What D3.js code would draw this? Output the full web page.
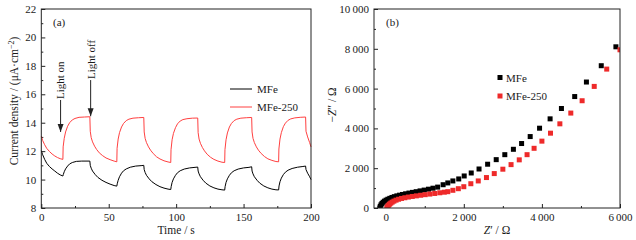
<!DOCTYPE html>
<html>
<head>
<meta charset="utf-8">
<script src="https://cdn.jsdelivr.net/npm/d3@7"></script>
<style>
body { margin: 0; background: #fff; }
text { font-family: "Liberation Serif", "Times New Roman", serif; font-size: 11px; fill: #1a1a1a; }
.title { font-size: 11.5px; }
</style>
</head>
<body>
<div id="chart"></div>
<script>
// (a) photocurrent vs time, [t (s), j (uA/cm2)]
const mfeCurrent = [
  [0,12.03],[1,11.75],[2.5,11.42],[4,11.15],[6,10.92],[8,10.75],[10,10.6],[12,10.45],[14,10.33],[16,10.25],
  [16.3,10.35],[17,10.55],[18,10.75],[19.5,10.95],[21,11.1],[23,11.2],[26,11.28],[30,11.3],[36,11.3],
  [36.3,11.0],[37,10.8],[38,10.6],[40,10.35],[42,10.15],[45,9.95],[48,9.8],[51,9.68],[54,9.58],[56,9.54],
  [56.3,9.7],[57,9.95],[58,10.2],[59.5,10.45],[61,10.62],[63,10.75],[66,10.87],[70,10.95],[74,10.98],[76,11.0],
  [76.3,10.7],[77,10.5],[78,10.3],[80,10.05],[82,9.85],[85,9.65],[88,9.5],[91,9.4],[94,9.33],[96,9.3],
  [96.3,9.5],[97,9.8],[98,10.05],[99.5,10.3],[101,10.48],[103,10.62],[106,10.74],[110,10.82],[114,10.86],[116,10.88],
  [116.3,10.6],[117,10.4],[118,10.2],[120,9.95],[122,9.75],[125,9.55],[128,9.42],[131,9.33],[134,9.28],[136,9.26],
  [136.3,9.5],[137,9.8],[138,10.05],[139.5,10.3],[141,10.48],[143,10.62],[146,10.74],[150,10.82],[154,10.86],[156,10.9],
  [156.3,10.6],[157,10.4],[158,10.2],[160,9.95],[162,9.75],[165,9.55],[168,9.42],[171,9.33],[174,9.28],[176,9.27],
  [176.3,9.55],[177,9.85],[178,10.1],[179.5,10.35],[181,10.52],[183,10.66],[186,10.78],[190,10.87],[194,10.92],[196,10.95],
  [196.3,10.7],[197.5,10.45],[199,10.2],[200,10.0]
];
const mfe250Current = [
  [0,13.06],[1,12.75],[2.5,12.45],[4,12.2],[6,11.98],[8,11.8],[10,11.66],[12,11.55],[14,11.47],[16,11.42],
  [16.2,12.3],[17,12.9],[18,13.35],[19.5,13.75],[21,14.0],[23,14.2],[25,14.3],[28,14.38],[32,14.4],[36,14.42],
  [36.3,13.4],[37,12.95],[38,12.65],[39.5,12.35],[41,12.12],[43,11.88],[45.5,11.68],[48,11.52],[51,11.4],[54,11.3],[56,11.25],
  [56.2,12.2],[57,12.85],[58,13.3],[59.5,13.7],[61,13.95],[63,14.15],[65,14.25],[68,14.32],[72,14.35],[76,14.37],
  [76.3,13.35],[77,12.9],[78,12.6],[79.5,12.3],[81,12.07],[83,11.83],[85.5,11.6],[88,11.45],[91,11.32],[94,11.24],[96,11.2],
  [96.2,12.1],[97,12.8],[98,13.25],[99.5,13.65],[101,13.92],[103,14.12],[105,14.22],[108,14.28],[112,14.32],[116,14.33],
  [116.3,13.3],[117,12.85],[118,12.55],[119.5,12.25],[121,12.02],[123,11.78],[125.5,11.57],[128,11.42],[131,11.3],[134,11.22],[136,11.2],
  [136.2,12.1],[137,12.8],[138,13.28],[139.5,13.7],[141,13.95],[143,14.15],[145,14.25],[148,14.32],[152,14.35],[156,14.37],
  [156.3,13.35],[157,12.9],[158,12.6],[159.5,12.3],[161,12.07],[163,11.84],[165.5,11.62],[168,11.46],[171,11.35],[174,11.27],[176,11.25],
  [176.2,12.15],[177,12.85],[178,13.3],[179.5,13.72],[181,13.97],[183,14.17],[185,14.27],[188,14.34],[192,14.38],[196,14.4],
  [196.3,13.4],[197.5,13.0],[199,12.6],[200,12.3]
];

// (b) Nyquist plot, [Z' (ohm), -Z'' (ohm)]
const mfeNyquist = [
  [-150,0],[-140,80],[-120,160],[-95,230],[-65,290],[-30,345],[10,395],[55,440],[105,485],[160,530],
  [220,570],[285,610],[355,645],[430,680],[510,715],[595,750],[685,785],[780,820],[880,860],[985,900],
  [1095,945],[1210,995],[1330,1050],[1470,1170],[1590,1260],[1720,1360],[1870,1460],[2010,1610],[2190,1760],
  [2390,1960],[2610,2200],[2830,2430],[3050,2680],[3270,2950],[3480,3240],[3700,3590],[3940,4010],
  [4210,4480],[4500,5000],[4840,5600],[5140,6330],[5520,7150],[5895,8100]
];
const mfe250Nyquist = [
  [30,0],[40,45],[55,95],[75,145],[100,195],[130,245],[165,295],[210,345],[265,395],[330,440],
  [405,480],[490,515],[580,550],[680,580],[785,610],[895,640],[1010,670],[1130,700],[1255,730],[1385,765],
  [1500,795],[1590,820],[1720,890],[1860,970],[2000,1070],[2180,1220],[2370,1360],[2580,1530],[2780,1730],
  [3000,1950],[3210,2180],[3420,2420],[3620,2680],[3800,3000],[4000,3360],[4220,3760],[4460,4230],
  [4740,4770],[5030,5390],[5340,6110],[5660,6980],[6000,7950]
];

const seriesNames = ["MFe", "MFe-250"];
const seriesColors = ["#000000", "#ff4040"];
const markerColors = ["#000000", "#ee2a2a"];

const timeTicks = [0, 50, 100, 150, 200];
const currentTicks = [8, 10, 12, 14, 16, 18, 20, 22];
const zReTicks = [0, 2000, 4000, 6000];
const zImTicks = [0, 2000, 4000, 6000, 8000, 10000];

const lightMarks = [
  {label: "Light on", t: 14.3, from: 15.6, to: 13.35},
  {label: "Light off", t: 36.6, from: 17.0, to: 14.45}
];

const width = 636, height = 240;
const plotTop = 9, plotBottom = 208;

const svg = d3.select("#chart").append("svg")
  .attr("width", width)
  .attr("height", height);

const fmtSpace = d => d >= 1000 ? d3.format(",")(d).replace(/,/g, "\u2009") : String(d);

function frame(x0, x1) {
  svg.append("rect")
    .attr("x", x0).attr("y", plotTop)
    .attr("width", x1 - x0).attr("height", plotBottom - plotTop)
    .attr("fill", "none").attr("stroke", "#222").attr("stroke-width", 1);
}

function styleAxis(g) {
  g.select(".domain").remove();
  g.selectAll(".tick line").attr("stroke", "#222");
  g.selectAll(".tick text").attr("fill", "#1a1a1a").style("font-size", "11px")
    .style("font-family", '"Liberation Serif", serif');
}

// ---------- panel (a) ----------
const xa = d3.scaleLinear().domain([0, 200]).range([41.3, 311]);
const ya = d3.scaleLinear().domain([8, 22]).range([plotBottom, plotTop]);

svg.append("g").attr("transform", `translate(0,${plotBottom})`)
  .call(d3.axisBottom(xa).tickValues(d3.range(25, 200, 50)).tickSize(-2).tickFormat(""))
  .call(styleAxis);
svg.append("g").attr("transform", `translate(0,${plotBottom})`)
  .call(d3.axisBottom(xa).tickValues(timeTicks).tickSizeInner(-4).tickPadding(5))
  .call(styleAxis);
svg.append("g").attr("transform", `translate(${xa(0)},0)`)
  .call(d3.axisLeft(ya).tickValues(d3.range(9, 22, 2)).tickSize(-2).tickFormat(""))
  .call(styleAxis);
svg.append("g").attr("transform", `translate(${xa(0)},0)`)
  .call(d3.axisLeft(ya).tickValues(currentTicks).tickSizeInner(-4).tickPadding(5))
  .call(styleAxis);

const lineA = d3.line().x(d => xa(d[0])).y(d => ya(d[1]));
[mfeCurrent, mfe250Current].forEach((s, i) => {
  svg.append("path").datum(s)
    .attr("d", lineA)
    .attr("fill", "none")
    .attr("stroke", seriesColors[i])
    .attr("stroke-width", 1);
});
frame(41.3, 311);

// arrows
const defs = svg.append("defs");
defs.append("marker")
  .attr("id", "head").attr("viewBox", "0 0 8 8")
  .attr("refX", 8).attr("refY", 4)
  .attr("markerWidth", 8).attr("markerHeight", 8)
  .attr("markerUnits", "userSpaceOnUse")
  .attr("orient", "auto")
  .append("path").attr("d", "M0,1 L8,4 L0,7 Z").attr("fill", "#222");

lightMarks.forEach(m => {
  svg.append("line")
    .attr("x1", xa(m.t)).attr("x2", xa(m.t))
    .attr("y1", ya(m.from)).attr("y2", ya(m.to))
    .attr("stroke", "#222").attr("stroke-width", 1)
    .attr("marker-end", "url(#head)");
  svg.append("text")
    .attr("transform", `translate(${xa(m.t)},${ya(m.from) - 1}) rotate(-90)`)
    .attr("dy", "0.35em")
    .text(m.label);
});

// legend (a)
seriesNames.forEach((n, i) => {
  const y = 89 + i * 18;
  svg.append("line").attr("x1", 230).attr("x2", 252).attr("y1", y).attr("y2", y)
    .attr("stroke", seriesColors[i]).attr("stroke-width", 1);
  svg.append("text").attr("x", 257).attr("y", y + 4).text(n);
});

svg.append("text").attr("x", 53).attr("y", 26).text("(a)");

svg.append("text").attr("class", "title")
  .attr("x", (xa(0) + xa(200)) / 2).attr("y", 234)
  .attr("text-anchor", "middle").text("Time / s");

const ylabA = svg.append("text").attr("class", "title")
  .attr("transform", "translate(18,101) rotate(-90)")
  .attr("text-anchor", "middle");
ylabA.append("tspan").text("Current density / (μA·cm");
ylabA.append("tspan").attr("dy", -4).style("font-size", "8px").text("−2");
ylabA.append("tspan").attr("dy", 4).text(")");

// ---------- panel (b) ----------
const xb = d3.scaleLinear().domain([-300, 6000]).range([374, 620]);
const yb = d3.scaleLinear().domain([0, 10000]).range([plotBottom, plotTop]);

svg.append("g").attr("transform", `translate(0,${plotBottom})`)
  .call(d3.axisBottom(xb).tickValues([1000, 3000, 5000]).tickSize(-2).tickFormat(""))
  .call(styleAxis);
svg.append("g").attr("transform", `translate(0,${plotBottom})`)
  .call(d3.axisBottom(xb).tickValues(zReTicks).tickSizeInner(-4).tickPadding(5).tickFormat(fmtSpace))
  .call(styleAxis);
svg.append("g").attr("transform", "translate(374,0)")
  .call(d3.axisLeft(yb).tickValues(d3.range(1000, 10000, 2000)).tickSize(-2).tickFormat(""))
  .call(styleAxis);
svg.append("g").attr("transform", "translate(374,0)")
  .call(d3.axisLeft(yb).tickValues(zImTicks).tickSizeInner(-4).tickPadding(5).tickFormat(fmtSpace))
  .call(styleAxis);

defs.append("clipPath").attr("id", "clipB")
  .append("rect").attr("x", 374).attr("y", plotTop).attr("width", 246).attr("height", plotBottom - plotTop);

const gb = svg.append("g").attr("clip-path", "url(#clipB)");
[mfeNyquist, mfe250Nyquist].forEach((s, i) => {
  gb.selectAll(null).data(s).enter().append("rect")
    .attr("x", d => xb(d[0]) - 2.5)
    .attr("y", d => yb(d[1]) - 2.5)
    .attr("width", 5).attr("height", 5)
    .attr("fill", markerColors[i]);
});
frame(374, 620);

// legend (b)
seriesNames.forEach((n, i) => {
  const y = 77.5 + i * 18.5;
  svg.append("rect").attr("x", 497.5).attr("y", y - 2.5).attr("width", 5).attr("height", 5)
    .attr("fill", markerColors[i]);
  svg.append("text").attr("x", 506).attr("y", y + 4).text(n);
});

svg.append("text").attr("x", 386).attr("y", 26).text("(b)");

const xlabB = svg.append("text").attr("class", "title")
  .attr("x", 497).attr("y", 234).attr("text-anchor", "middle");
xlabB.append("tspan").style("font-style", "italic").text("Z");
xlabB.append("tspan").text("′ / Ω");

const ylabB = svg.append("text").attr("class", "title")
  .attr("transform", "translate(336,105) rotate(-90)")
  .attr("text-anchor", "middle");
ylabB.append("tspan").text("−");
ylabB.append("tspan").style("font-style", "italic").text("Z");
ylabB.append("tspan").text("″ / Ω");
</script>
</body>
</html>
